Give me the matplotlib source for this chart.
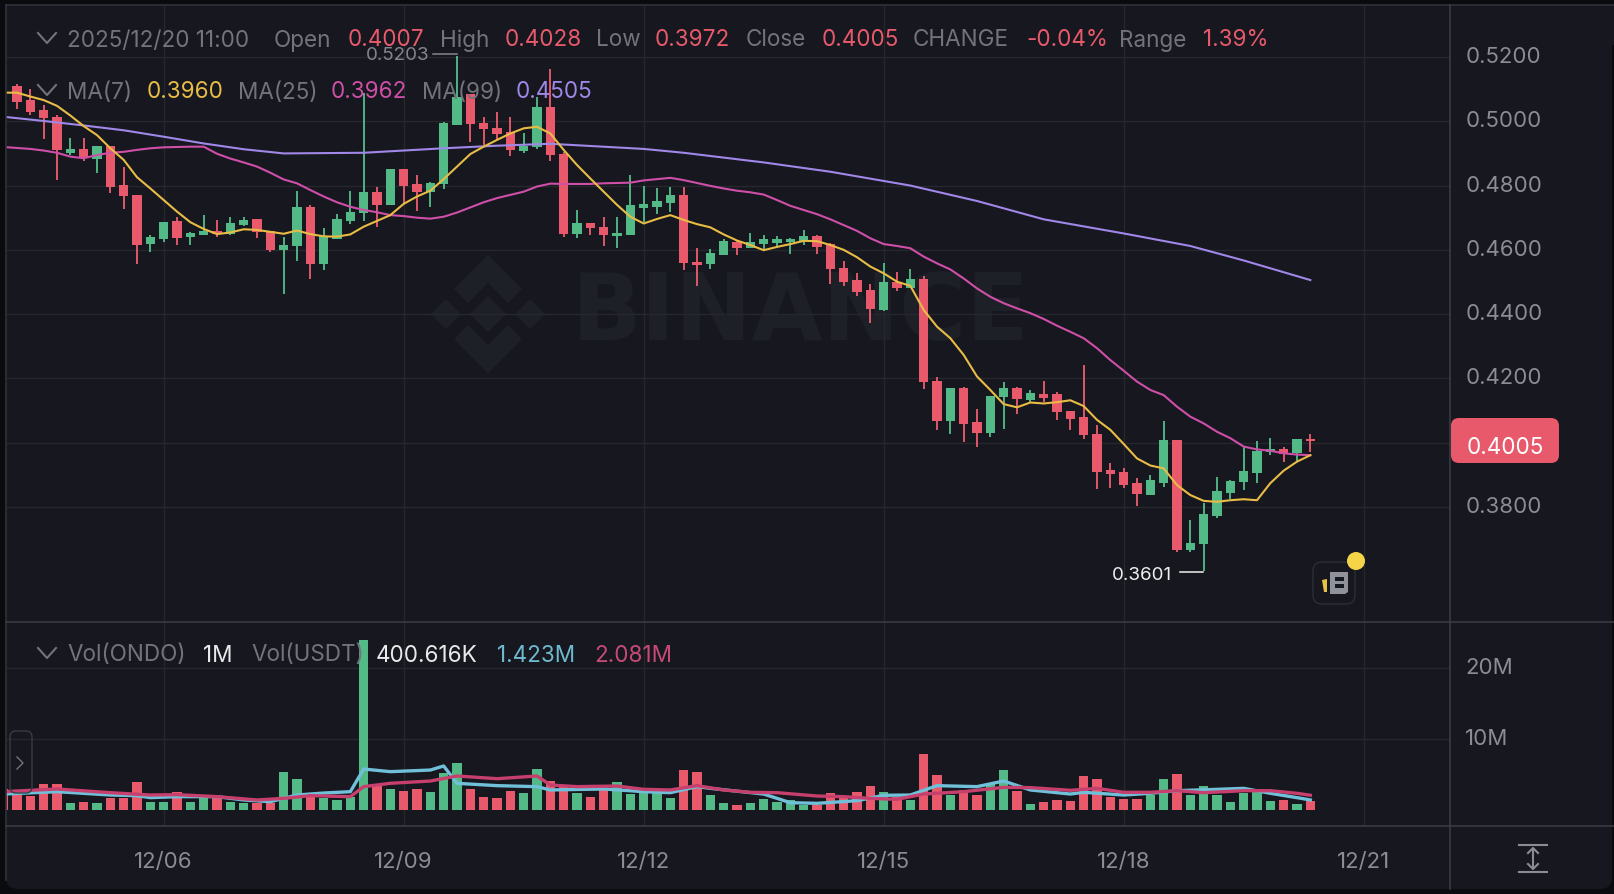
import matplotlib
matplotlib.use("Agg")
import matplotlib.pyplot as plt
import matplotlib.transforms as mtrans
from matplotlib.patches import FancyBboxPatch, Polygon, Circle, Rectangle

FONT = "Inter"
plt.rcParams["font.family"] = [FONT, "DejaVu Sans"]

# ---- data: one candle every four hours, candle 1 is the first fully visible
highs = [.5116,.5099,.5050,.5021,.4947,.4947,.4924,.4924,.4857,.4770,
         .4646,.4688,.4703,.4654,.4707,.4693,.4701,.4703,.4695,.4660,
         .4639,.4782,.4741,.4669,.4712,.4784,.5087,.4797,.4852,.4852,
         .4832,.4810,.4997,.5203,.5084,.5012,.5029,.5012,.4962,.5077,
         .5162,.4905,.4724,.4685,.4703,.4702,.4832,.4799,.4791,.4796,
         .4794,.4607,.4602,.4634,.4626,.4653,.4646,.4643,.4636,.4661,
         .4646,.4620,.4564,.4527,.4493,.4558,.4530,.4540,.4520,.4203,
         .4170,.4174,.4104,.4146,.4188,.4172,.4164,.4191,.4159,.4100,
         .4241,.4055,.3936,.3920,.3891,.3899,.4067,.4008,.3760,.3811,
         .3892,.3883,.3988,.4006,.4015,.3986,.4011,.4028]
opens = [.5110,.5065,.5035,.5012,.4902,.4914,.4883,.4923,.4801,.4770,
         .4617,.4633,.4689,.4639,.4646,.4660,.4649,.4676,.4695,.4660,
         .4599,.4611,.4732,.4556,.4634,.4689,.4714,.4781,.4740,.4852,
         .4805,.4781,.4805,.4988,.5084,.4995,.4980,.4967,.4908,.4919,
         .5043,.4899,.4648,.4683,.4671,.4642,.4646,.4729,.4734,.4747,
         .4770,.4563,.4555,.4585,.4625,.4607,.4617,.4620,.4623,.4629,
         .4643,.4617,.4545,.4506,.4474,.4413,.4499,.4480,.4508,.4192,
         .4067,.4171,.4064,.4029,.4141,.4170,.4133,.4153,.4152,.4100,
         .4079,.4027,.3915,.3908,.3876,.3838,.3876,.4007,.3666,.3684,
         .3773,.3843,.3877,.3907,.3972,.3979,.3967,.4007]
closes = [.5059,.5029,.5009,.4911,.4915,.4888,.4924,.4797,.4766,.4616,
          .4639,.4688,.4637,.4651,.4659,.4649,.4682,.4693,.4657,.4599,
          .4615,.4732,.4555,.4643,.4695,.4717,.4781,.4741,.4851,.4799,
          .4781,.4809,.4994,.5077,.4990,.4975,.4959,.4911,.4923,.5043,
          .4895,.4648,.4685,.4668,.4646,.4652,.4740,.4742,.4753,.4771,
          .4558,.4553,.4589,.4626,.4606,.4623,.4634,.4634,.4635,.4644,
          .4610,.4539,.4501,.4468,.4415,.4499,.4480,.4508,.4188,.4068,
          .4169,.4058,.4029,.4145,.4171,.4136,.4154,.4140,.4095,.4075,
          .4023,.3910,.3902,.3868,.3839,.3883,.4007,.3666,.3689,.3779,
          .3850,.3882,.3912,.3975,.3979,.3964,.4010,.4005]
lows = [.5038,.5020,.4944,.4817,.4895,.4876,.4840,.4778,.4726,.4555,
        .4592,.4624,.4616,.4614,.4646,.4639,.4647,.4674,.4636,.4592,
        .4463,.4566,.4510,.4536,.4634,.4680,.4689,.4670,.4738,.4745,
        .4720,.4732,.4790,.4988,.4936,.4927,.4946,.4893,.4900,.4913,
        .4875,.4640,.4638,.4646,.4613,.4606,.4646,.4688,.4712,.4717,
        .4537,.4486,.4539,.4585,.4583,.4607,.4603,.4612,.4588,.4615,
        .4588,.4494,.4488,.4457,.4373,.4411,.4473,.4480,.4166,.4038,
        .4027,.4001,.3988,.4017,.4042,.4088,.4123,.4127,.4071,.4040,
        .4011,.3855,.3860,.3858,.3804,.3836,.3863,.3659,.3661,.3601,
        .3767,.3824,.3852,.3874,.3961,.3939,.3941,.3972]

# moving averages, starting at candle 0 (partly hidden at the left edge)
ma7 = [.5089,.5089,.5077,.5066,.5048,.5018,.4985,.4957,.4916,.4880,.4826,
       .4791,.4755,.4719,.4686,.4665,.4649,.4654,.4664,.4662,.4656,
       .4650,.4660,.4649,.4642,.4641,.4648,.4672,.4690,.4708,.4743,
       .4766,.4784,.4820,.4859,.4898,.4921,.4942,.4962,.4978,.4983,
       .4962,.4911,.4864,.4822,.4781,.4740,.4703,.4682,.4696,.4708,
       .4693,.4680,.4670,.4648,.4629,.4615,.4599,.4609,.4618,.4628,
       .4627,.4615,.4600,.4577,.4548,.4527,.4501,.4488,.4413,.4361,
       .4325,.4273,.4206,.4164,.4120,.4110,.4125,.4122,.4126,.4132,
       .4114,.4071,.4040,.3996,.3951,.3929,.3920,.3868,.3837,.3819,
       .3816,.3821,.3824,.3821,.3874,.3913,.3941,.3961]
ma25 = [.4920,.4917,.4914,.4909,.4902,.4890,.4885,.4895,.4902,.4905,.4911,
        .4916,.4919,.4920,.4921,.4921,.4899,.4884,.4872,.4859,.4840,
        .4819,.4807,.4786,.4766,.4748,.4734,.4724,.4717,.4708,.4705,
        .4700,.4697,.4703,.4716,.4732,.4748,.4761,.4771,.4781,.4797,
        .4806,.4805,.4805,.4805,.4807,.4808,.4809,.4816,.4820,.4824,
        .4817,.4808,.4799,.4791,.4784,.4779,.4772,.4755,.4737,.4724,
        .4711,.4695,.4677,.4659,.4636,.4618,.4612,.4605,.4579,.4558,
        .4539,.4511,.4480,.4454,.4434,.4418,.4403,.4385,.4364,.4345,
        .4325,.4294,.4257,.4224,.4190,.4164,.4148,.4112,.4081,.4060,
        .4034,.4014,.3988,.3979,.3975,.3967,.3963,.3961]
ma99_idx = [0,3,6,9,12,15,18,21,27,33,37,41,48,51,57,62,68,73,78,84,89,93,98]
ma99 = [.5014,.5001,.4987,.4972,.4952,.4931,.4913,.4900,.4902,.4916,.4924,
        .4930,.4914,.4902,.4872,.4843,.4800,.4752,.4695,.4651,.4612,.4567,.4506]

# volume in millions, starting at candle 0
volume0 = 2.9
volumes = [2.25,2.02,3.62,3.62,.94,1.13,.99,1.74,1.74,3.9,
           1.17,1.13,2.49,1.08,1.64,1.74,1.08,.99,.94,.99,
           5.31,4.32,1.88,1.64,1.41,1.88,23.9,3.52,2.91,2.68,
           2.91,2.58,5.16,6.67,3.0,1.78,1.74,2.68,2.35,5.73,
           4.13,3.52,2.35,1.78,3.29,3.9,2.25,2.82,2.58,1.74,
           5.63,5.31,2.11,1.03,.7,.94,1.55,1.17,1.41,.7,
           .7,2.39,1.97,2.49,3.43,2.54,1.88,1.41,7.89,4.98,
           2.11,2.82,2.11,3.85,5.63,2.63,.85,1.17,1.41,1.27,
           4.79,4.41,1.88,1.55,1.55,2.11,4.41,5.12,2.11,3.33,
           2.11,1.17,2.35,2.49,1.31,1.36,.8,1.22]
vol_ma1_idx = [0,4,8,10,11,13,16,18,20,22,24,26,27,29,32,33,34,37,40,41,45,48,50,52,53,57,59,61,64,66,68,70,73,75,77,80,81,84,86,88,91,93,95,97,98]
vol_ma1 = [2.25,2.58,2.11,2.02,1.74,1.88,1.88,1.41,1.17,2.11,2.39,2.58,5.77,5.4,5.63,6.2,3.76,3.43,3.29,2.82,2.96,2.58,2.44,3.29,3.05,2.25,1.03,.94,1.31,2.07,2.11,3.43,3.29,4.08,2.82,2.25,2.49,2.11,2.35,2.72,2.91,3.05,2.35,1.74,1.42]
vol_ma2_idx = [0,4,8,11,13,16,19,21,23,26,27,29,32,34,37,40,41,43,46,48,50,52,54,56,58,61,63,65,67,69,72,75,77,80,82,84,86,88,90,93,95,97,98]
vol_ma2 = [2.58,2.96,2.44,2.11,2.16,1.88,1.41,1.64,2.02,1.88,3.29,3.76,4.08,4.79,4.41,4.79,3.52,3.29,3.38,2.91,2.82,3.43,2.82,2.49,2.44,1.97,1.88,1.64,1.5,2.25,2.58,3.19,3.15,2.77,3.05,2.49,2.49,2.72,2.44,2.72,2.72,2.35,2.08]

price_ticks = [.38,.40,.42,.44,.46,.48,.50,.52]
price_labels = ["0.3800","","0.4200","0.4400","0.4600","0.4800","0.5000","0.5200"]
vol_ticks = [10,20]
vol_labels = ["10M","20M"]
date_ticks = [12,30,48,66,84,102]
date_labels = ["12/06","12/09","12/12","12/15","12/18","12/21"]

# ---- colours
BG = "#16171f"; OUTER = "#0a0b0e"; GRID = "#26282e"; SEP = "#3a3c42"
RED = "#e85a6b"; GREEN = "#52b987"; GREY = "#72747c"; AXTXT = "#8b8d93"
YEL = "#e8bc45"; MAG = "#cf4fa8"; PUR = "#a087e8"; CYAN = "#6fc0d8"; VRED = "#c63f6d"

W, H = 1614, 894
fig = plt.figure(figsize=(W/100, H/100), dpi=100, facecolor=OUTER)

def axpos(l, t, r, b):
    return [l/W, 1-b/H, (r-l)/W, (b-t)/H]

# ---- backdrop: panel and watermark
back = fig.add_axes([0,0,1,1], zorder=0)
back.set_xlim(0,W); back.set_ylim(H,0); back.axis("off")
back.add_patch(FancyBboxPatch((6,5),W-6-2,884,boxstyle="round,pad=0,rounding_size=12",fc=BG,ec="none"))
back.add_patch(Rectangle((6,5),W,40,fc=BG,ec="none"))
back.add_patch(Rectangle((6,5),40,60,fc=BG,ec="none"))
WM = "#1e2027"
cx, cy = 488, 314
for pts in [
    [(cx,cy-59),(cx+34,cy-25),(cx+20,cy-11),(cx,cy-31),(cx-20,cy-11),(cx-34,cy-25)],
    [(cx,cy+59),(cx+34,cy+25),(cx+20,cy+11),(cx,cy+31),(cx-20,cy+11),(cx-34,cy+25)],
    [(cx,cy-18),(cx+18,cy),(cx,cy+18),(cx-18,cy)],
    [(cx-42,cy-15),(cx-27,cy),(cx-42,cy+15),(cx-57,cy)],
    [(cx+42,cy-15),(cx+57,cy),(cx+42,cy+15),(cx+27,cy)],
]:
    back.add_patch(Polygon(pts,closed=True,fc=WM,ec="none"))
back.text(801,314,"BINANCE",color=WM,fontsize=66,fontweight="bold",ha="center",va="center",family="DejaVu Sans")

# ---- price panel
ax = fig.add_axes(axpos(6,5,1450,622), zorder=1, facecolor="none")
ax.set_xlim(0.175,108.475)
ax.set_ylim(0.52-(622-57)/3214, 0.52+(57-5)/3214)
xs = list(range(1,len(closes)+1))
up = [c>=o for o,c in zip(opens,closes)]
cols = [GREEN if u else RED for u in up]
ax.vlines(xs,lows,highs,colors=cols,lw=1.35,zorder=3)
ax.bar(xs,[max(abs(c-o),.0006) for o,c in zip(opens,closes)],
       bottom=[min(o,c) for o,c in zip(opens,closes)],width=.72,color=cols,zorder=3)
ma_x = list(range(0,len(ma7)))
ax.plot(ma99_idx,ma99,color=PUR,lw=1.5,zorder=4)
ax.plot(ma_x,ma25,color=MAG,lw=1.5,zorder=4)
ax.plot(ma_x,ma7,color=YEL,lw=1.5,zorder=5)
ax.set_yticks(price_ticks); ax.set_yticklabels(price_labels)
ax.set_xticks(date_ticks); ax.tick_params(axis="x",labelbottom=False,length=0)
ax.yaxis.tick_right()
ax.tick_params(axis="y",length=0,pad=11,labelsize=16,labelcolor=AXTXT)
ax.grid(True,color=GRID,lw=1); ax.set_axisbelow(True)
for s in ax.spines.values(): s.set_visible(False)

# ---- volume panel
vx = fig.add_axes(axpos(6,622,1450,826), zorder=1, facecolor="none")
vx.set_xlim(0.175,108.475)
vx.set_ylim(-16/7.1, (810-622)/7.1)
vcols = [RED]+cols
vx.bar([0]+xs,[volume0]+volumes,width=.72,color=vcols,zorder=3)
vx.plot(vol_ma1_idx,vol_ma1,color=CYAN,lw=2.4,zorder=4)
vx.plot(vol_ma2_idx,vol_ma2,color=VRED,lw=2.4,zorder=5)
vx.set_yticks(vol_ticks); vx.set_yticklabels(vol_labels)
vx.set_xticks(date_ticks); vx.set_xticklabels(date_labels)
vx.yaxis.tick_right()
vx.tick_params(axis="y",length=0,pad=11,labelsize=16,labelcolor=AXTXT)
vx.tick_params(axis="x",length=0,pad=19,labelsize=16,labelcolor=AXTXT)
vx.grid(True,color=GRID,lw=1); vx.set_axisbelow(True)
for s in vx.spines.values(): s.set_visible(False)

# nudge the right-hand labels up to sit where the reference has them
lift = mtrans.ScaledTranslation(0, 2/100, fig.dpi_scale_trans)
for a in (ax, vx):
    for t in a.get_yticklabels():
        t.set_transform(t.get_transform() + lift)

# ---- chrome and legends
ov = fig.add_axes([0,0,1,1], zorder=2, facecolor="none")
ov.set_xlim(0,W); ov.set_ylim(H,0); ov.axis("off")
ov.plot([6,W],[5,5],color="#30323a",lw=1.2)
ov.plot([6,6],[5,880],color="#30323a",lw=1.2)
ov.plot([6,W],[622,622],color=SEP,lw=1.2)
ov.plot([6,W],[826,826],color=SEP,lw=1.2)
ov.plot([1450,1450],[5,889],color=SEP,lw=1.2)

def chev(y):
    ov.plot([38,47,56],[y-5,y+5,y-5],color=GREY,lw=1.5)
FS = 16.2
def txt(x,y,s,c,fs=FS):
    ov.text(x,y,s,color=c,fontsize=fs,ha="left",va="center_baseline")

chev(38); chev(90); chev(653)
for x,s,c in [(67,"2025/12/20 11:00",GREY),(274,"Open",GREY),(348,"0.4007",RED),(440,"High",GREY),
              (505,"0.4028",RED),(596,"Low",GREY),(655,"0.3972",RED),(746,"Close",GREY),
              (822,"0.4005",RED),(913,"CHANGE",GREY),(1026,"-0.04%",RED),(1119,"Range",GREY),(1203,"1.39%",RED)]:
    txt(x,38,s,c)
for x,s,c in [(67,"MA(7)",GREY),(147,"0.3960",YEL),(238,"MA(25)",GREY),(331,"0.3962",MAG),
              (422,"MA(99)",GREY),(516,"0.4505",PUR)]:
    txt(x,90,s,c)
for x,s,c in [(67,"Vol(ONDO)",GREY),(203,"1M","#e8e9ea"),(251,"Vol(USDT)",GREY),(376,"400.616K","#e8e9ea"),
              (497,"1.423M","#6fb9cf"),(594,"2.081M","#c64a76")]:
    txt(x,653,s,c)

# extreme labels
txt(366,54,"0.5203","#84868c",13.5)
ov.plot([433,457],[54,54],color="#84868c",lw=1.1)
txt(1112,573,"0.3601","#f0f0f0",13.5)
ov.plot([1180,1203],[572,572],color="#f0f0f0",lw=1.1)

# last price tag
ov.add_patch(FancyBboxPatch((1451,418),108,45,boxstyle="round,pad=0,rounding_size=8",fc=RED,ec="none"))
ov.text(1505,445.5,"0.4005",color="white",fontsize=FS,ha="center",va="center_baseline")

# side handle
ov.add_patch(FancyBboxPatch((10,731),22,62,boxstyle="round,pad=0,rounding_size=6",fc="none",ec="#3a3c42",lw=1))
ov.plot([17,23,17],[757,763,769],color=GREY,lw=1)

# news icon
ov.add_patch(FancyBboxPatch((1313,562),42,42,boxstyle="round,pad=0,rounding_size=9",fc=BG,ec="#2c2e35",lw=1))
ov.add_patch(Polygon([(1330,572),(1348,572),(1348,592),(1345,594),(1330,594)],closed=True,fc="#8f919b",ec="none"))
ov.add_patch(Rectangle((1335,577),9,3.5,fc=BG,ec="none"))
ov.add_patch(Rectangle((1335,584),9,3.5,fc=BG,ec="none"))
ov.add_patch(Polygon([(1322,580),(1327,579),(1327,592),(1324,592)],closed=True,fc="#e8c33f",ec="none"))
ov.add_patch(Circle((1356,561),9,fc="#f6d448",ec="none"))

# fit-height icon
ov.plot([1519,1547],[845,845],color=AXTXT,lw=1.5)
ov.plot([1519,1547],[872,872],color=AXTXT,lw=1.5)
ov.plot([1533,1533],[849,868],color=AXTXT,lw=1.5)
ov.plot([1528,1533,1538],[853,848,853],color=AXTXT,lw=1.5)
ov.plot([1528,1533,1538],[864,869,864],color=AXTXT,lw=1.5)

fig.savefig("out.png",dpi=100,facecolor=OUTER)
